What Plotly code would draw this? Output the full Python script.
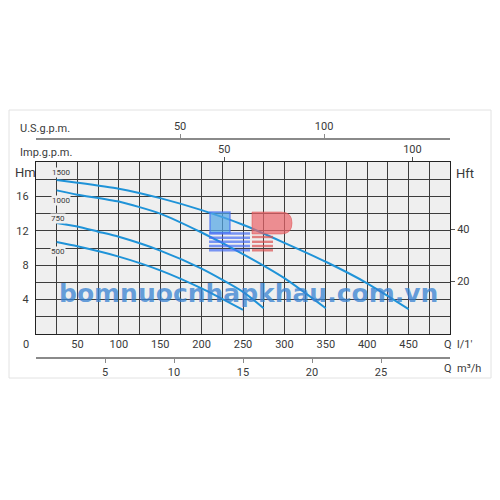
import plotly.graph_objects as go

# ---------------- data ----------------
q_1500 = [25, 50, 100, 150, 200, 250, 300, 350, 400, 450]
h_1500 = [17.9, 17.6, 16.9, 15.8, 14.4, 12.7, 10.6, 8.4, 5.9, 2.9]
q_1000 = [25, 50, 100, 150, 200, 250, 300, 350]
h_1000 = [16.7, 16.2, 15.4, 14.0, 11.8, 9.3, 6.5, 3.0]
q_750 = [25, 50, 75, 100, 150, 200, 250, 275]
h_750 = [12.9, 12.5, 11.9, 11.3, 9.7, 7.6, 4.9, 3.0]
q_500 = [25, 50, 100, 150, 200, 250]
h_500 = [10.7, 10.2, 9.0, 7.4, 5.3, 2.8]
curve_names = ["1500", "1000", "750", "500"]

q_grid = list(range(25, 500, 25))
q_labels = [str(v) if v % 50 == 0 and v < 500 else "" for v in q_grid]
h_grid = list(range(2, 20, 2))
h_labels = [str(v) if v % 4 == 0 else "" for v in h_grid]
hft_ticks = [20, 40]
imp_ticks = [50, 100]
us_ticks = [50, 100]
m3h_ticks = [5, 10, 15, 20, 25]

Q_MAX = 500
H_MAX = 20
FT_PER_M = 3.2808
LPM_PER_IMP = 4.546
LPM_PER_US = 3.48   # as drawn on the original scale
LPM_PER_M3H = 1000 / 60

# ---------------- layout helpers ----------------
W, H = 500, 500
ML, MR, MT, MB = 36, 50, 120, 120
PW, PH = W - ML - MR, H - MT - MB


def px(x):
    return (x - ML) / PW


def py(y):
    return (H - MB - y) / PH


FONT = "Roboto, sans-serif"
TXT = "#3a3a3a"
BLUE = "#1f93d8"
GRID = "#3c3c3c"

fig = go.Figure()
series = [(q_1500, h_1500), (q_1000, h_1000), (q_750, h_750), (q_500, h_500)]
for name, (q, h) in zip(curve_names, series):
    fig.add_trace(go.Scatter(x=q, y=h, mode="lines", name=name,
                             line=dict(color=BLUE, width=2, shape="spline", smoothing=0.6),
                             hoverinfo="skip", showlegend=False))

# invisible anchors so the secondary axes are drawn
for xa, ya in [("x2", "y"), ("x3", "y"), ("x4", "y"), ("x", "y2")]:
    fig.add_trace(go.Scatter(x=[0], y=[0], xaxis=xa, yaxis=ya, mode="markers",
                             marker=dict(opacity=0), hoverinfo="skip", showlegend=False))

y_dom = [py(334), py(162)]
tickfont = dict(family=FONT, size=11, color=TXT)

fig.update_layout(
    width=W, height=H,
    margin=dict(l=ML, r=MR, t=MT, b=MB),
    paper_bgcolor="white", plot_bgcolor="#efefef",
    font=dict(family=FONT, size=11, color=TXT),
    xaxis=dict(domain=[0, 1], range=[0, Q_MAX], anchor="y",
               tickmode="array", tickvals=q_grid, ticktext=q_labels,
               showgrid=True, gridcolor=GRID, gridwidth=1, zeroline=False,
               showline=True, linecolor="#222", linewidth=1.2, mirror=True,
               ticks="", tickfont=tickfont),
    yaxis=dict(domain=y_dom, range=[0, H_MAX], anchor="x",
               tickmode="array", tickvals=h_grid, ticktext=h_labels,
               showgrid=True, gridcolor=GRID, gridwidth=1, zeroline=False,
               showline=True, linecolor="#222", linewidth=1.2, mirror=True,
               ticks="", tickfont=tickfont, ticklabelstandoff=4),
    yaxis2=dict(overlaying="y", side="right", anchor="x", range=[0, H_MAX * FT_PER_M],
                tickmode="array", tickvals=hft_ticks, showgrid=False, zeroline=False,
                ticks="outside", ticklen=4, tickcolor="#555", tickfont=tickfont),
    xaxis2=dict(overlaying="x", side="top", anchor="y", range=[0, Q_MAX / LPM_PER_IMP],
                tickmode="array", tickvals=imp_ticks, showgrid=False, zeroline=False,
                ticks="outside", ticklen=4, tickcolor="#555", tickfont=tickfont),
    xaxis3=dict(overlaying="x", side="top", anchor="free", position=py(139),
                range=[0, Q_MAX / LPM_PER_US],
                tickmode="array", tickvals=us_ticks, showgrid=False, zeroline=False,
                showline=True, linecolor="#8a8a8a", linewidth=1.6,
                ticks="outside", ticklen=4, tickcolor="#8a8a8a", tickfont=tickfont),
    xaxis4=dict(overlaying="x", side="bottom", anchor="free", position=py(358),
                range=[0, Q_MAX / LPM_PER_M3H],
                tickmode="array", tickvals=m3h_ticks, showgrid=False, zeroline=False,
                showline=True, linecolor="#8a8a8a", linewidth=1.6,
                ticks="outside", ticklen=4, tickcolor="#8a8a8a", tickfont=tickfont),
)

ann = []


def text(t, x, y, anchor="left", size=11, **kw):
    ann.append(dict(text=t, x=px(x), y=py(y), xref="paper", yref="paper",
                    xanchor=anchor, yanchor="middle", showarrow=False,
                    font=dict(family=FONT, size=size, color=TXT), **kw))


text("U.S.g.p.m.", 18, 128)
text("Imp.g.p.m.", 18, 152.5)
text("Hm", 25, 172, anchor="center", size=13)
text("Hft", 454, 173, size=13)
text("0", 26, 344, anchor="center")
text("Q  l/1'", 442, 344)
text("Q  m³/h", 442, 368)

# curve labels next to curve starts
label_shift = [(4, 8), (4, -10), (1, 5), (1.5, -10)]
for name, (q, h), (dx, dy) in zip(curve_names, series, label_shift):
    ann.append(dict(text=name, x=q[0], y=h[0], xref="x", yref="y", showarrow=False,
                    xshift=dx, yshift=dy, bgcolor="#efefef", borderpad=0,
                    font=dict(family=FONT, size=8, color=TXT)))

# watermark
ann.append(dict(text="<b>bomnuocnhapkhau.com.vn</b>", x=px(249), y=py(293),
                xref="paper", yref="paper", showarrow=False,
                font=dict(family="DejaVu Sans", size=25,
                          color="rgba(55,130,210,0.75)")))
fig.update_layout(annotations=ann)

shapes = []
# outer frame
shapes.append(dict(type="rect", xref="paper", yref="paper", x0=px(9), x1=px(491),
                   y0=py(110), y1=py(378), line=dict(color="#e2e2e2", width=1), layer="below"))
# logo: blue square + stripes
shapes.append(dict(type="rect", xref="paper", yref="paper", x0=px(210), x1=px(230),
                   y0=py(212), y1=py(233), fillcolor="rgba(80,165,230,0.7)",
                   line=dict(color="rgba(70,110,245,0.7)", width=1.5)))
for yy in [233.5, 237.7, 241.8, 246, 250.3]:
    shapes.append(dict(type="rect", xref="paper", yref="paper", x0=px(209), x1=px(250),
                       y0=py(yy - 1.2), y1=py(yy + 1.2), fillcolor="rgba(70,110,245,0.7)",
                       line=dict(width=0)))
for yy in [237, 241.8, 246, 250.3]:
    shapes.append(dict(type="rect", xref="paper", yref="paper", x0=px(252), x1=px(273),
                       y0=py(yy - 1.2), y1=py(yy + 1.2), fillcolor="rgba(220,80,80,0.7)",
                       line=dict(width=0)))
pth = (f"M {px(252)},{py(212)} L {px(281)},{py(212)} "
       f"Q {px(292)},{py(212)} {px(292)},{py(223)} "
       f"Q {px(292)},{py(234)} {px(281)},{py(234)} L {px(252)},{py(234)} Z")
shapes.append(dict(type="path", xref="paper", yref="paper", path=pth,
                   fillcolor="rgba(235,100,105,0.7)", line=dict(color="rgba(220,80,80,0.5)", width=1)))
fig.update_layout(shapes=shapes)

fig.write_html("out.html", config={"displayModeBar": False},
               post_script="document.body.style.margin='0px';")
